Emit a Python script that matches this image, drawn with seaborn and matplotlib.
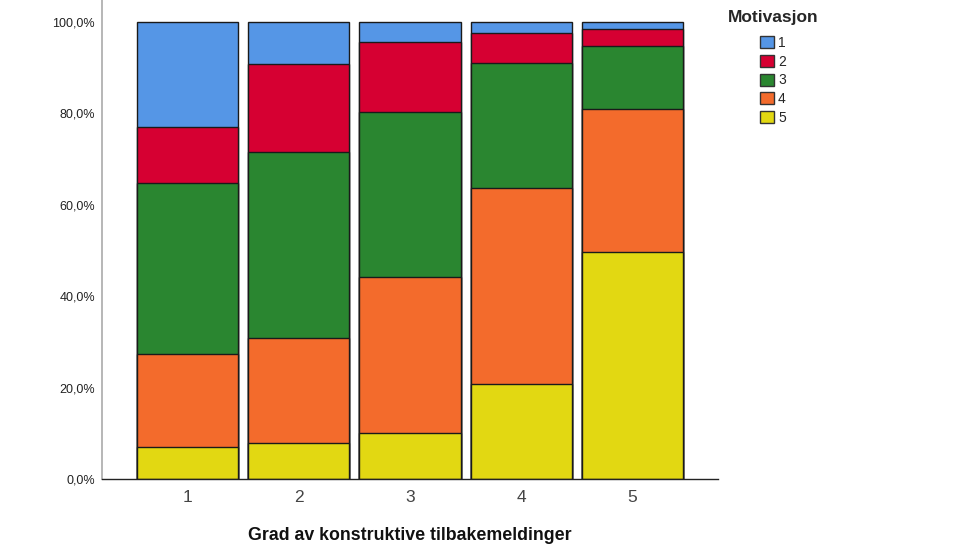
import numpy as np
import pandas as pd
import matplotlib
matplotlib.use('Agg')
import matplotlib.pyplot as plt
import seaborn as sns
from matplotlib.patches import Patch

groups = ['1', '2', '3', '4', '5']
levels = ['1', '2', '3', '4', '5']

# percent of each Motivasjon level within each group
pct_1 = [22.9, 9.2, 4.4, 2.5, 1.6]
pct_2 = [12.3, 19.2, 15.3, 6.4, 3.6]
pct_3 = [37.4, 40.7, 36.2, 27.4, 13.8]
pct_4 = [20.5, 23.0, 34.1, 43.0, 31.4]
pct_5 = [6.9, 7.9, 10.0, 20.7, 49.6]

colors = ['#5596E6', '#D60032', '#2A8630', '#F36B2C', '#E2D812']

df = pd.DataFrame({'grad': groups, '1': pct_1, '2': pct_2, '3': pct_3,
                   '4': pct_4, '5': pct_5})

sns.set_style('white')
plt.rcParams['font.family'] = ['Liberation Sans', 'DejaVu Sans']

fig = plt.figure(figsize=(9.6, 5.48), dpi=100)
ax = fig.add_axes([102 / 960, 69 / 548, 616 / 960, 479 / 548])

# stacked: bottom layer is level 5, top layer is level 1
# draw cumulative heights, tallest first
for i, lev in enumerate(levels):
    cum = df[levels[i:]].sum(axis=1)
    sns.barplot(x=df['grad'], y=cum, color=colors[i], edgecolor='#1a1a1a',
                linewidth=1.0, width=0.91, saturation=1, ax=ax)

ax.set_xlim(-0.77, 4.77)
ax.set_ylim(0, 104.8)
ax.set_yticks([0, 20, 40, 60, 80, 100])
ax.set_yticklabels(['0,0%', '20,0%', '40,0%', '60,0%', '80,0%', '100,0%'],
                   fontsize=9, color='#222222')
ax.tick_params(axis='x', labelsize=12.5, colors='#444444', pad=8, length=0)
ax.tick_params(axis='y', length=0, pad=5)

ax.set_xlabel('Grad av konstruktive tilbakemeldinger', fontsize=12.8,
              fontweight='bold', labelpad=16, color='#111111')
ax.set_ylabel('')

for s in ['top', 'right']:
    ax.spines[s].set_visible(False)
ax.spines['left'].set_color('#aaaaaa')
ax.spines['left'].set_linewidth(1.2)
ax.spines['bottom'].set_color('#222222')
ax.spines['bottom'].set_linewidth(1.0)

handles = [Patch(facecolor=c, edgecolor='#333333', linewidth=1.0) for c in colors]
leg = fig.legend(handles, levels, title='Motivasjon', loc='upper left',
                 bbox_to_anchor=(722 / 960, 1 - 4 / 548), frameon=False,
                 fontsize=10, handlelength=1.0, handleheight=0.95,
                 labelspacing=0.35, handletextpad=0.3, borderaxespad=0)
leg.get_title().set_fontweight('bold')
leg.get_title().set_fontsize(12.5)
# a little more room between title and entries
leg._legend_box.sep = 8

fig.savefig('out.png', dpi=100)
